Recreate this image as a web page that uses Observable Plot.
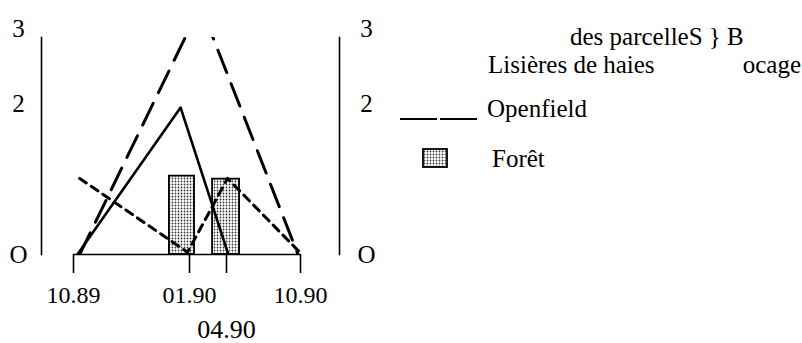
<!DOCTYPE html>
<html>
<head>
<meta charset="utf-8">
<script src="https://cdn.jsdelivr.net/npm/d3@7"></script>
<script src="https://cdn.jsdelivr.net/npm/@observablehq/plot@0.6"></script>
<style>
  body { margin: 0; background: #fff; }
  svg { display: block; }
</style>
</head>
<body>
<div id="chart"></div>
<script>
// x values: months since October 1989
const tickMonths = [0, 3, 6, 12];
const tickLabels = ["10.89", "01.90", "04.90", "10.90"];
const yTicks = [0, 2, 3];
const yTickLabels = ["O", "2", "3"];

// solid line
const solidX = [0.1, 2.77, 6.15];
const solidY = [0, 1.95, 0];
// long-dashed line
const dashedX = [0.16, 3.9, 11.8];
const dashedY = [0, 3.3, 0];
// short-dashed (dotted) line
const dottedX = [0.16, 2.95, 6.08, 12];
const dottedY = [1.01, 0.03, 1.01, 0.02];
// stippled bars (Forêt)
const barX1 = [2.48, 4.87];
const barX2 = [3.41, 7.06];
const barY = [1.04, 1.0];

// legend texts
const legendTitle1 = "des parcelleS } B";
const legendTitle2a = "Lisières de haies";
const legendTitle2b = "ocage";
const legendLineLabel = "Openfield";
const legendBoxLabel = "Forêt";

const serif = "Liberation Serif, Times New Roman, serif";

const solid = solidX.map((x, i) => ({x, y: solidY[i]}));
const dashed = dashedX.map((x, i) => ({x, y: dashedY[i]}));
const dotted = dottedX.map((x, i) => ({x, y: dottedY[i]}));
const bars = barX1.map((x1, i) => ({x1, x2: barX2[i], y: barY[i]}));
const ticks = tickMonths.map((m, i) => ({m, label: tickLabels[i]}));
const yt = yTicks.map((v, i) => ({v, label: yTickLabels[i]}));

const chart = Plot.plot({
  width: 802,
  height: 343,
  marginLeft: 41,
  marginRight: 463,
  marginTop: 37,
  marginBottom: 89,
  style: {fontFamily: serif, background: "#fff", color: "#000", overflow: "visible"},
  x: {type: "linear", domain: [0, 3, 12], range: [73, 189, 300], label: null},
  y: {domain: [0, 3], range: [254, 28], axis: null, label: null},
  marks: [
    Plot.frame({anchor: "left", stroke: "#000", strokeWidth: 1.6}),
    Plot.frame({anchor: "right", stroke: "#000", strokeWidth: 1.6}),
    Plot.text(yt, {y: "v", text: "label", frameAnchor: "left", dx: -23, textAnchor: "middle", fontSize: 25, fill: "#000"}),
    Plot.text(yt, {y: "v", text: "label", frameAnchor: "right", dx: 27, textAnchor: "middle", fontSize: 25, fill: "#000"}),
    Plot.rect(bars, {x1: "x1", x2: "x2", y1: 0, y2: "y", fill: "url(#stipple)", stroke: "#000", strokeWidth: 1.8}),
    Plot.ruleY([0], {x1: tickMonths[0], x2: tickMonths[tickMonths.length - 1], stroke: "#000", strokeWidth: 1.6}),
    Plot.axisX(tickMonths, {tickSize: 19, tickFormat: () => "", stroke: "#000", strokeWidth: 1.6}),
    Plot.text(ticks.filter(d => d.m !== 6), {x: "m", text: "label", frameAnchor: "bottom", lineAnchor: "top", dy: 31, fontSize: 24, fill: "#000"}),
    Plot.text(ticks.filter(d => d.m === 6), {x: "m", text: "label", frameAnchor: "bottom", lineAnchor: "top", dy: 65, fontSize: 26, fill: "#000"}),
    Plot.line(dashed, {x: "x", y: "y", stroke: "#000", strokeWidth: 3, strokeDasharray: "24,12", clip: "frame"}),
    Plot.line(dotted, {x: "x", y: "y", stroke: "#000", strokeWidth: 3, strokeDasharray: "8,6", clip: "frame"}),
    Plot.line(solid, {x: "x", y: "y", stroke: "#000", strokeWidth: 2.6, clip: "frame"})
  ]
});

document.getElementById("chart").appendChild(chart);

const svg = d3.select(chart);
const defs = svg.insert("defs", ":first-child");
const pat = defs.append("pattern").attr("id", "stipple")
  .attr("patternUnits", "userSpaceOnUse").attr("width", 3).attr("height", 3);
pat.append("rect").attr("width", 3).attr("height", 3).attr("fill", "#fff");
pat.append("circle").attr("cx", 1.5).attr("cy", 1.5).attr("r", 0.9).attr("fill", "#333");

const lg = svg.append("g").attr("font-family", serif).attr("font-size", 25)
  .attr("fill", "#000").attr("text-anchor", "start");
lg.append("text").attr("x", 570).attr("y", 45).text(legendTitle1);
lg.append("text").attr("x", 488).attr("y", 73).text(legendTitle2a);
lg.append("text").attr("x", 801).attr("y", 73).attr("text-anchor", "end").text(legendTitle2b);
lg.append("line").attr("x1", 400).attr("x2", 477).attr("y1", 119).attr("y2", 119)
  .attr("stroke", "#000").attr("stroke-width", 2).attr("stroke-dasharray", "37,3");
lg.append("text").attr("x", 487).attr("y", 117).text(legendLineLabel);
lg.append("rect").attr("x", 423).attr("y", 149).attr("width", 24).attr("height", 18)
  .attr("fill", "url(#stipple)").attr("stroke", "#000").attr("stroke-width", 1.8);
lg.append("text").attr("x", 492).attr("y", 167).text(legendBoxLabel);
</script>
</body>
</html>
